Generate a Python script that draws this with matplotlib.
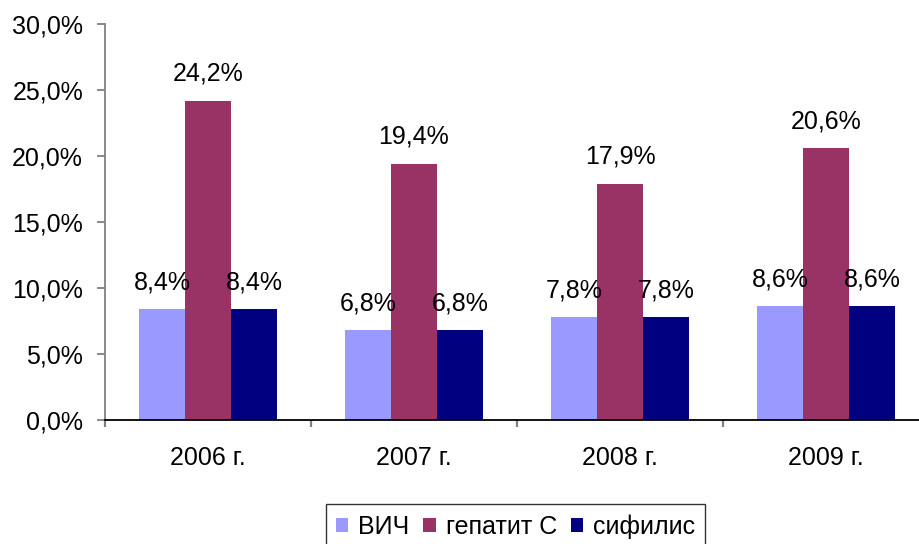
import numpy as np
import matplotlib
matplotlib.use("Agg")
import matplotlib.pyplot as plt
from matplotlib.patches import Patch

years = ["2006 г.", "2007 г.", "2008 г.", "2009 г."]
series = ["ВИЧ", "гепатит С", "сифилис"]
hiv = [8.4, 6.8, 7.8, 8.6]
hepc = [24.2, 19.4, 17.9, 20.6]
syph = [8.4, 6.8, 7.8, 8.6]
colors = ["#9999FF", "#993366", "#000080"]
yticks = [0, 5, 10, 15, 20, 25, 30]

plt.rcParams["font.family"] = ["Liberation Sans", "DejaVu Sans"]
plt.rcParams["font.size"] = 18

fig = plt.figure(figsize=(9.2, 5.44), dpi=100)
ax = fig.add_axes([105 / 920, 124 / 544, 824 / 920, 396 / 544])

x = np.arange(len(years))
w = 0.2235
for i, (vals, name, c) in enumerate(zip([hiv, hepc, syph], series, colors)):
    pos = x + (i - 1) * w
    ax.bar(pos, vals, width=w, color=c, label=name)
    for px, v in zip(pos, vals):
        ax.annotate(f"{v:.1f}%".replace(".", ","), (px, v), xytext=(0, 14.4),
                    textcoords="offset points", ha="center", va="baseline")

ax.set_xlim(-0.5, len(years) - 0.5)
ax.set_ylim(0, 30)
ax.set_yticks(yticks, [f"{v:.1f}%".replace(".", ",") for v in yticks])
ax.set_xticks(x, years)
ax.set_xticks(np.arange(len(years) + 1) - 0.5, minor=True)

for s in ["top", "right"]:
    ax.spines[s].set_visible(False)
ax.spines["left"].set_color("#808080")
ax.spines["left"].set_linewidth(1.3)
ax.spines["bottom"].set_color("black")
ax.spines["bottom"].set_linewidth(1.3)

ax.tick_params(axis="y", length=5.8, width=1.3, color="#808080", pad=10)
ax.tick_params(axis="x", which="major", length=0, pad=19)
ax.tick_params(axis="x", which="minor", length=5.2, width=1.6, color="#808080")

handles = [Patch(facecolor=c, edgecolor="none") for c in colors]
leg = fig.legend(handles, series, loc="upper center", bbox_to_anchor=(0.5603, 0.0735),
                 ncol=3, frameon=True, fancybox=False, handlelength=0.5,
                 handleheight=0.5, handletextpad=0.4, columnspacing=0.55,
                 borderpad=0.4, borderaxespad=0)
leg.get_frame().set_edgecolor("black")
leg.get_frame().set_linewidth(1.0)

fig.savefig("out.png", dpi=100)
